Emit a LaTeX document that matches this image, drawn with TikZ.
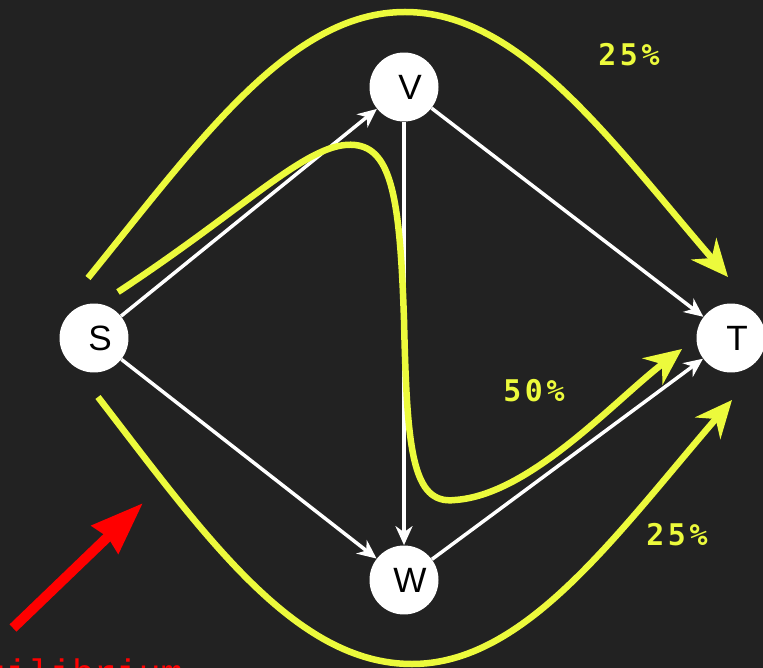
\documentclass[tikz,border=0pt]{standalone}
\usepackage{fontspec}
\setmainfont{Liberation Sans}
\newfontfamily\pctfont[LetterSpace=12]{DejaVu Sans Mono}
\newfontfamily\notefont{Liberation Mono}
\usetikzlibrary{arrows.meta}
\definecolor{flowbg}{HTML}{222222}
\definecolor{flowyel}{HTML}{ECFA3C}
\definecolor{flowred}{HTML}{FF0000}

\begin{document}
\begin{tikzpicture}[x=0.02cm, y=-0.02cm,
  vert/.style={circle, fill=white, minimum size=1.38cm, inner sep=0pt},
  lbl/.style={font=\fontsize{20}{24}\selectfont, text=black, xshift=0.12cm},
  edge/.style={white, line width=0.07cm, -{Stealth[length=0.38cm, width=0.34cm, inset=0.12cm]}},
  flow/.style={flowyel, line width=0.13cm, -{Stealth[length=0.74cm, width=0.66cm, inset=0.24cm]}},
  pct/.style={text=flowyel, font=\pctfont\bfseries\fontsize{17}{20}\selectfont}]
  \useasboundingbox (0,0) rectangle (763,668);
  \fill[flowbg] (0,0) rectangle (763,668);
  \clip (0,0) rectangle (763,668);

  % network
  \node[vert, label={[lbl]center:S}] (s) at (94,338) {};
  \node[vert, label={[lbl]center:V}] (v) at (404,87) {};
  \node[vert, label={[lbl]center:W}] (w) at (404,580) {};
  \node[vert, label={[lbl]center:T}] (t) at (731,338) {};
  \draw[edge] (s) -- (v); \draw[edge] (s) -- (w);
  \draw[edge] (v) -- (w);
  \draw[edge] (v) -- (t); \draw[edge] (w) -- (t);

  % flow split
  \coordinate (topin) at (88,278);   \coordinate (topout) at (728,277);
  \coordinate (midin) at (118,292);  \coordinate (midout) at (682,349);
  \coordinate (botin) at (98,397);   \coordinate (botout) at (732,400);
  \draw[flow] (topin) .. controls (200,140) and (290,12) .. (405,12)
    .. controls (520,12) and (610,140) .. (topout);
  \draw[flow] (midin) .. controls (250,205) and (310,140) .. (355,145)
    .. controls (392,149) and (400,200) .. (404,320)
    .. controls (407,450) and (412,505) .. (455,500)
    .. controls (530,495) and (615,400) .. (midout);
  \draw[flow] (botin) .. controls (205,536) and (295,664) .. (412,664)
    .. controls (525,664) and (615,536) .. (botout);
  \node[pct] (ptop) at (629,55) {25\%};
  \node[pct] (pmid) at (534,391) {50\%};
  \node[pct] (pbot) at (677,535) {25\%};

  % hint
  \coordinate (htail) at (13,628);
  \coordinate (htip) at (143,503);
  \draw[flowred, line width=0.2cm, -{Stealth[length=1.04cm, width=0.74cm, inset=0.06cm]}] (htail) -- (htip);
  \node[anchor=base west, inner sep=0pt, text=flowred, font=\notefont\fontsize{21}{24}\selectfont]
    (eqtext) at (-61,685) {equilibrium};
\end{tikzpicture}
\end{document}
